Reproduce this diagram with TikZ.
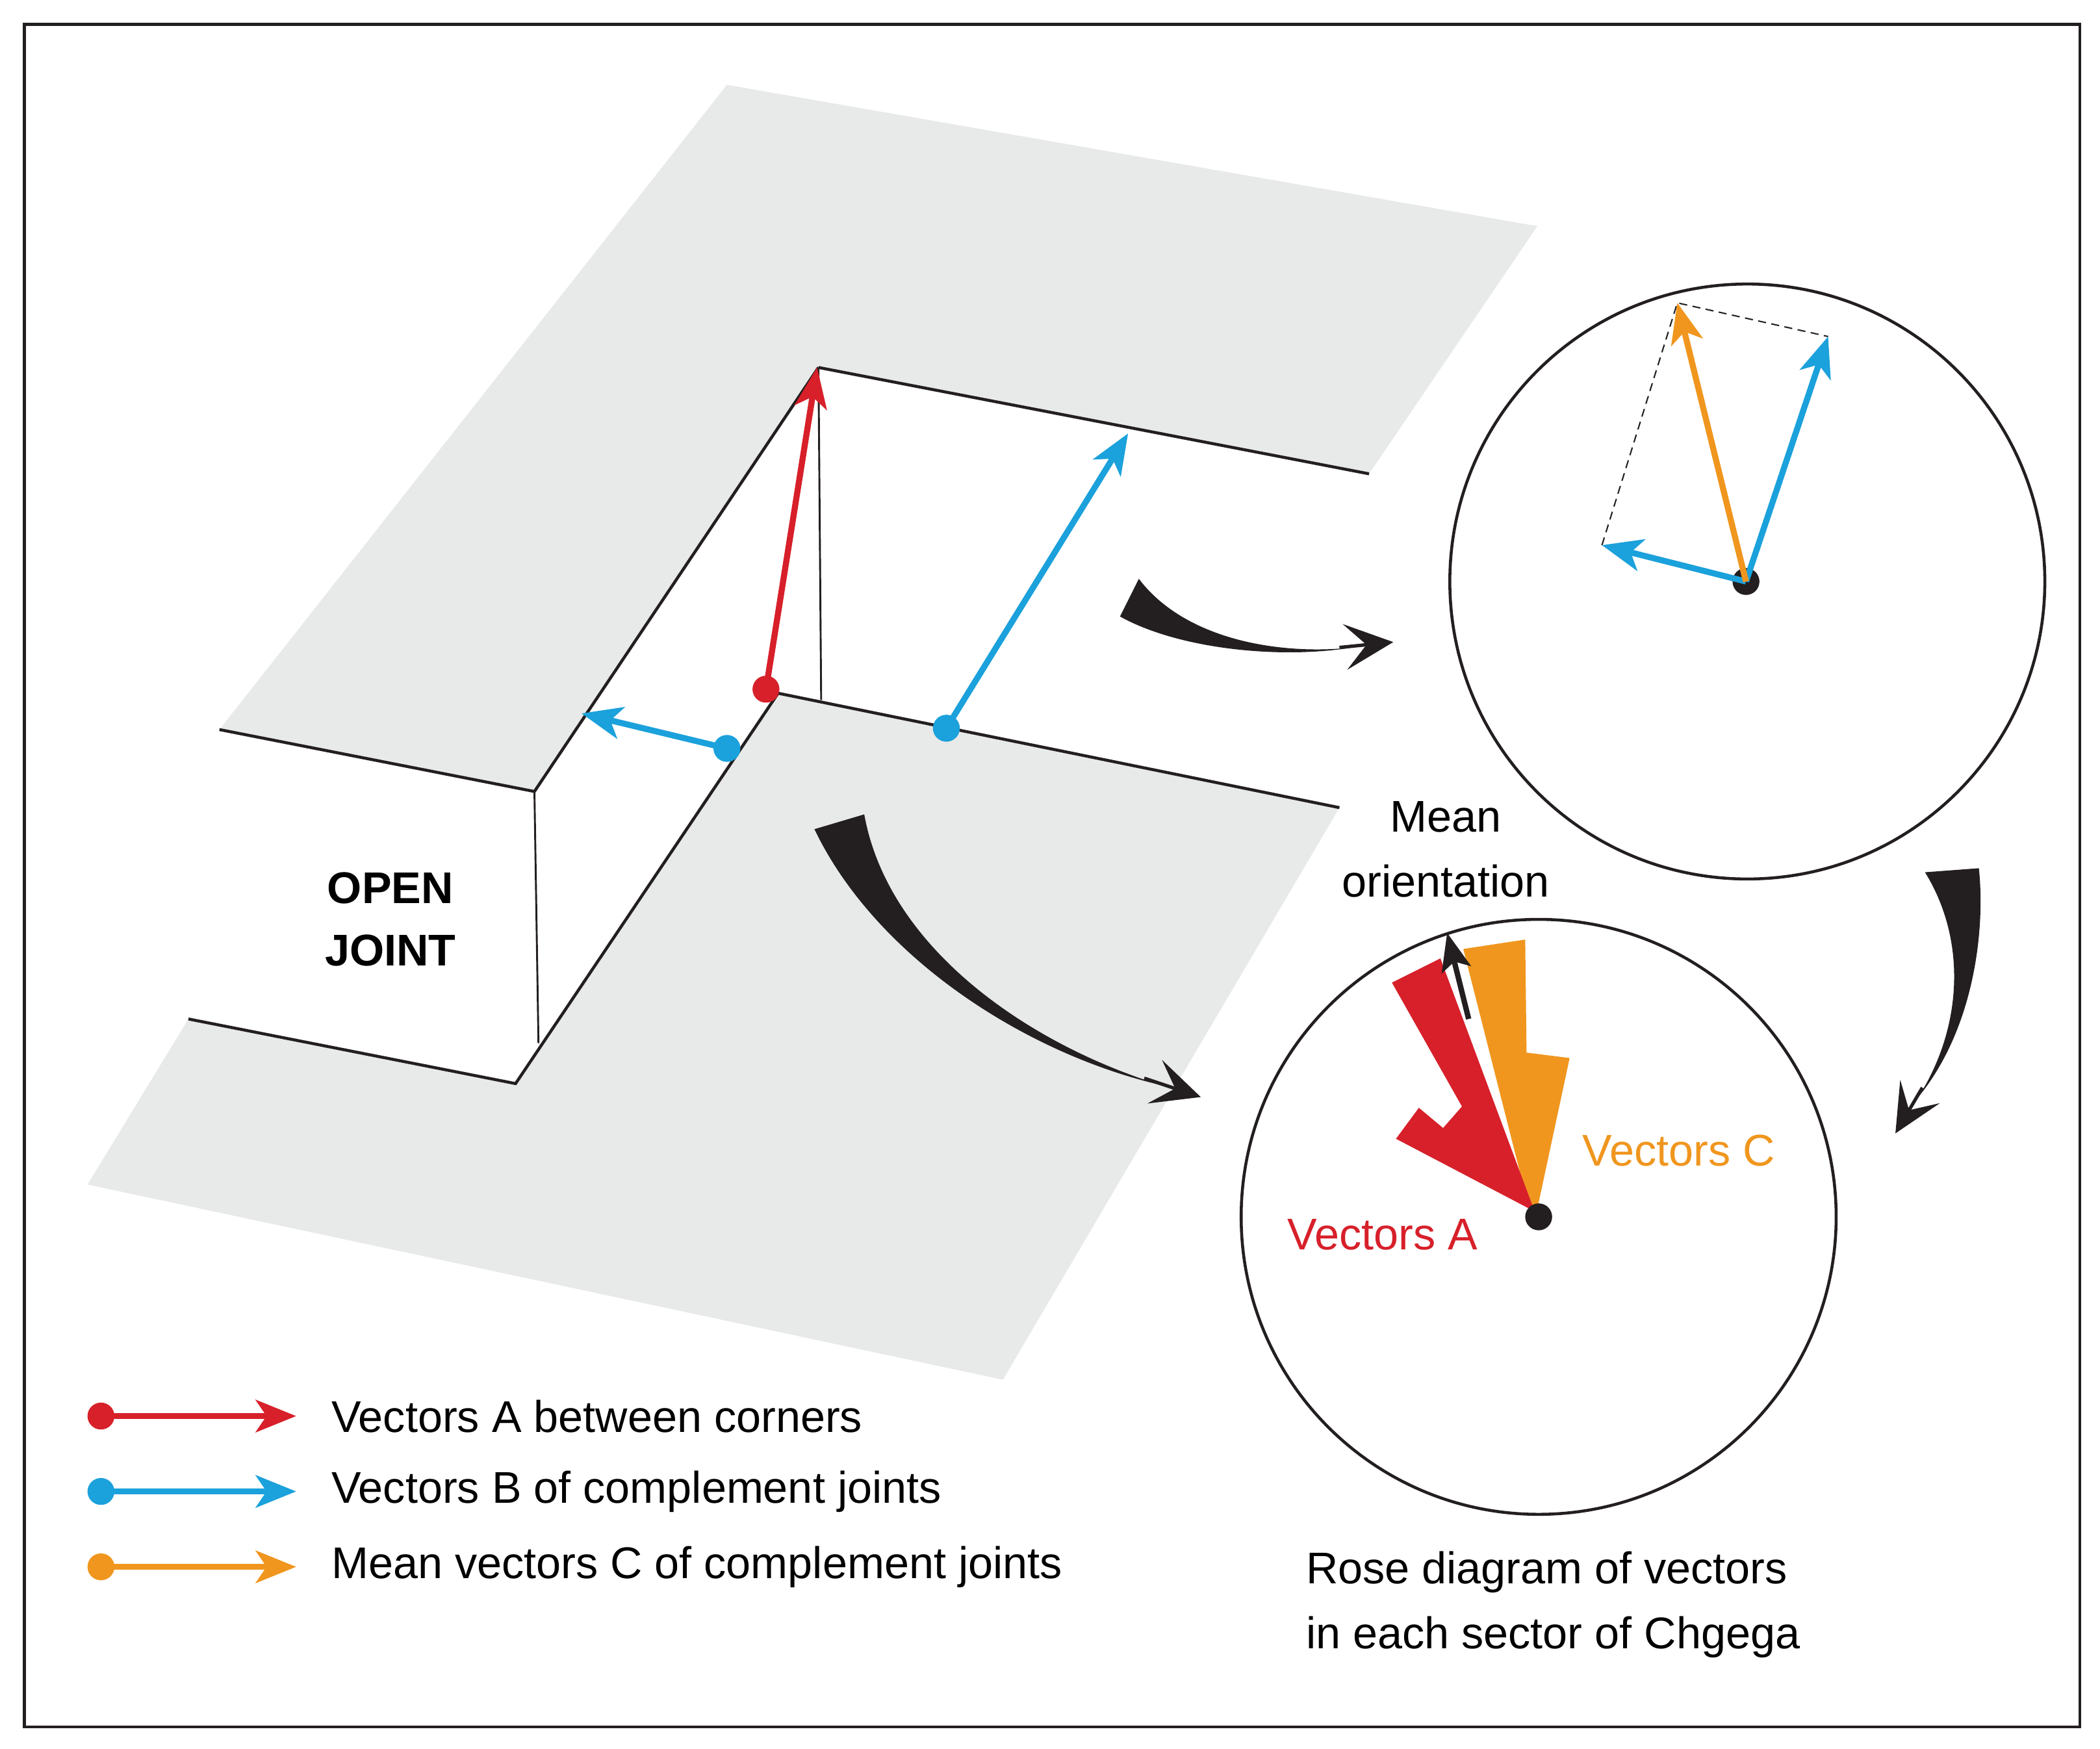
\documentclass[tikz,border=0pt]{standalone}
\usepackage{fontspec}
\setmainfont{Liberation Sans}
\usetikzlibrary{arrows.meta}
\definecolor{vred}{HTML}{D7202A}
\definecolor{vblue}{HTML}{1BA1DB}
\definecolor{vorange}{HTML}{F0961E}
\definecolor{plane}{HTML}{E8E9E9}
\definecolor{ink}{HTML}{231F20}
\begin{document}
\begin{tikzpicture}[x=1pt,y=-1pt,
  edge/.style={ink,line width=2.2pt},
  thin/.style={ink,line width=1.4pt},
  vec/.style={line width=4.5pt,-{Stealth[length=30pt,width=24pt,inset=8pt]}},
  dot/.style={circle,fill,inner sep=0pt,minimum size=20pt},
  txt/.style={font=\fontsize{33}{40}\selectfont,inner sep=0pt},
  taper/.style={fill=ink},
  tapera/.style={ink,line width=2.5pt,-{Stealth[length=36pt,width=34pt,inset=16pt]}}]
\useasboundingbox (0,0) rectangle (1560,1299);
\draw[ink,line width=2.2pt] (18,18) rectangle (1545,1283);
% planes
\fill[plane] (540,63) -- (1142,168) -- (1017,352) -- (608,273) -- (397,588) -- (163,542) -- cycle;
\fill[plane] (578,515) -- (995,600) -- (745,1025) -- (65,880) -- (140,757) -- (383,805) -- cycle;
% edges
\coordinate (tA) at (608,273); \coordinate (tB) at (1017,352);
\coordinate (bA) at (578,515); \coordinate (bB) at (995,600);
\coordinate (uA) at (163,542); \coordinate (uB) at (397,588);
\coordinate (lA) at (140,757); \coordinate (lB) at (383,805);
\coordinate (vB) at (400,775); \coordinate (vA) at (610,520);
\draw[edge] (tA) -- (tB); \draw[edge] (bA) -- (bB);
\draw[edge] (uA) -- (uB) -- (tA); \draw[edge] (lA) -- (lB) -- (bA);
\draw[thin] (uB) -- (vB); \draw[thin] (tA) -- (vA);
\node[txt,font=\fontsize{33}{40}\selectfont\bfseries,align=center] (oj) at (290,683) {OPEN\\[6pt]JOINT};
% vectors on block
\node[dot,vred] (ra) at (569,512) {};
\coordinate (rat) at (607,273);
\draw[vec,vred] (ra.center) -- (rat);
\node[dot,vblue] (b1) at (540,556) {};
\coordinate (b1t) at (432,530);
\draw[vec,vblue] (b1.center) -- (b1t);
\node[dot,vblue] (b2) at (703,541) {};
\coordinate (b2t) at (838,322);
\draw[vec,vblue] (b2.center) -- (b2t);
% circle 1
\node[circle,draw=ink,line width=2.2pt,minimum size=442pt,inner sep=0pt] (c1) at (1298,432) {};
\node[dot,ink] (o1) at (1297,432) {};
\coordinate (p1) at (1358,250); \coordinate (p2) at (1190,405); \coordinate (p3) at (1246,225);
\draw[ink,line width=1pt,dash pattern=on 6pt off 4pt] (p2) -- (p3) -- (p1);
\draw[vec,vblue] (o1.center) -- (p1);
\draw[vec,vblue] (o1.center) -- (p2);
\draw[vec,vorange] (o1.center) -- (p3);
% circle 2 (rose)
\node[circle,draw=ink,line width=2.2pt,minimum size=442pt,inner sep=0pt] (c2) at (1143,904) {};
\fill[vorange] (1136,898) -- (1087,705) -- (1133,698) -- (1134,782) -- (1166,786) -- (1142,898) -- cycle;
\fill[vred] (1140,900) -- (1037,846) -- (1054,823) -- (1072,838) -- (1086,822) -- (1034,730) -- (1070,712) -- cycle;
\node[dot,ink] (o2) at (1143,904) {};
\coordinate (m0) at (1091,757); \coordinate (m1) at (1075,693);
\draw[ink,line width=4pt,-{Stealth[length=28pt,width=22pt,inset=6pt]}] (m0) -- (m1);
\node[txt,align=center] (mo) at (1074,631) {Mean\\[8pt]orientation};
\node[txt,vorange] (vc) at (1247,855) {Vectors C};
\node[txt,vred] (va) at (1027,917) {Vectors A};
% curved arrows
\fill[taper] (846,430) .. controls (880,475) and (950,487) .. (1005,481) .. controls (950,490) and (875,482) .. (832,458) -- cycle;
\coordinate (a1s) at (995,481); \coordinate (a1e) at (1035,477);
\draw[tapera] (a1s) -- (a1e);
\fill[taper] (605,616) .. controls (650,710) and (760,782) .. (862,806) .. controls (765,776) and (660,705) .. (642,605) -- cycle;
\coordinate (a2s) at (850,801); \coordinate (a2e) at (892,815);
\draw[tapera] (a2s) -- (a2e);
\fill[taper] (1430,648) .. controls (1462,700) and (1457,765) .. (1425,815) .. controls (1466,765) and (1475,692) .. (1470,645) -- cycle;
\coordinate (a3s) at (1428,808); \coordinate (a3e) at (1408,842);
\draw[tapera] (a3s) -- (a3e);
% legend
\node[dot,vred] (l1) at (75,1052) {}; \coordinate (l1e) at (220,1052);
\draw[vec,vred] (l1.center) -- (l1e);
\node[txt,anchor=west] (t1) at (246,1052) {Vectors A between corners};
\node[dot,vblue] (l2) at (75,1108) {}; \coordinate (l2e) at (220,1108);
\draw[vec,vblue] (l2.center) -- (l2e);
\node[txt,anchor=west] (t2) at (246,1108) {Vectors B of complement joints};
\node[dot,vorange] (l3) at (75,1164) {}; \coordinate (l3e) at (220,1164);
\draw[vec,vorange] (l3.center) -- (l3e);
\node[txt,anchor=west] (t3) at (246,1164) {Mean vectors C of complement joints};
\node[txt,anchor=west,align=left] (cap) at (970,1192) {Rose diagram of vectors\\[8pt]in each sector of Chgega};
\end{tikzpicture}
\end{document}
